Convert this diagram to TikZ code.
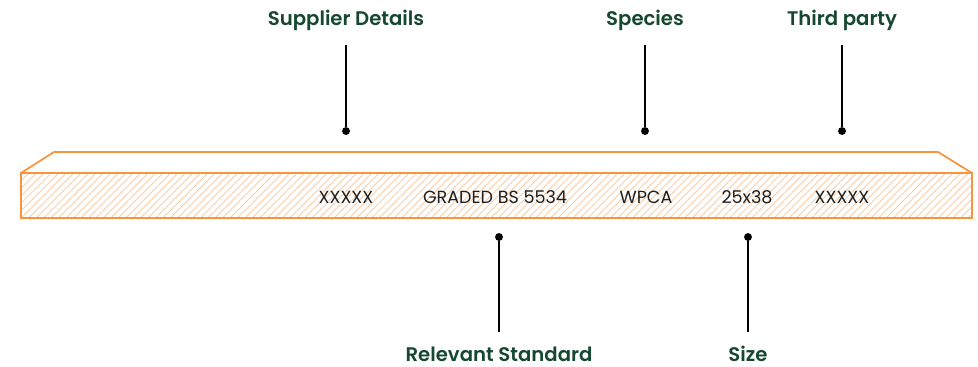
\documentclass[tikz,border=0pt]{standalone}
\usepackage{fontspec}
\setmainfont{Poppins}[BoldFont={Poppins SemiBold}]
\usetikzlibrary{patterns.meta}
\definecolor{board_orange}{RGB}{247,148,62}
\definecolor{hatch_orange}{RGB}{251,205,165}
\definecolor{label_green}{RGB}{22,72,48}
\definecolor{text_gray}{RGB}{30,30,30}

\begin{document}
\begin{tikzpicture}[x=0.02cm,y=-0.02cm,semithick]
    \tikzstyle{lbl}=[text=label_green,font=\bfseries\fontsize{11.2}{13}\selectfont,inner sep=0pt]
    \tikzstyle{stamp}=[text=text_gray,font=\fontsize{10}{12}\selectfont,inner sep=0pt]
    \tikzstyle{dot}=[circle,fill=black,inner sep=0pt,minimum size=4.5pt]
    \tikzstyle{lead}=[draw=black,line width=0.6pt,shorten <=8pt]

    \useasboundingbox (0,0) rectangle (978,366);

    % board
    \draw[board_orange,line width=1pt,line join=round] (21,173) -- (54,152) -- (938,152) -- (972,173);
    \fill[pattern={Lines[angle=45,distance=3pt,line width=0.5pt]},pattern color=hatch_orange] (21,173) rectangle (972,218);
    \draw[board_orange,line width=1pt] (21,173) rectangle (972,218);

    % marking text
    \node[stamp] (m1) at (346,197) {XXXXX};
    \node[stamp] (m2) at (495,197) {GRADED BS 5534};
    \node[stamp] (m3) at (646,197) {WPCA};
    \node[stamp] (m4) at (747,197) {25x38};
    \node[stamp] (m5) at (842,197) {XXXXX};

    % labels
    \node[lbl] (sup) at (346,20)  {Supplier Details};
    \node[lbl] (spc) at (645,20)  {Species};
    \node[lbl] (thp) at (842,20)  {Third party};
    \node[lbl] (std) at (499,354) {Relevant Standard};
    \node[lbl] (siz) at (748,354) {Size};

    \node[dot] (dsup) at (346,131) {};
    \node[dot] (dspc) at (645,131) {};
    \node[dot] (dthp) at (842,131) {};
    \node[dot] (dstd) at (499,237) {};
    \node[dot] (dsiz) at (748,237) {};

    \path
     (sup) edge[lead] (dsup)
     (spc) edge[lead] (dspc)
     (thp) edge[lead] (dthp)
     (std) edge[lead] (dstd)
     (siz) edge[lead] (dsiz)
     ;
\end{tikzpicture}
\end{document}
